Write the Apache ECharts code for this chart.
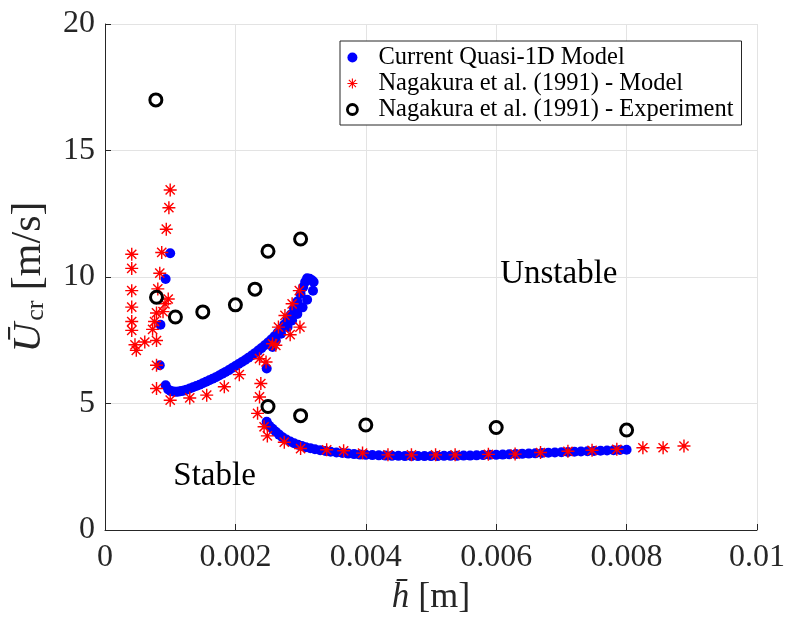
<!DOCTYPE html>
<html>
<head>
<meta charset="utf-8">
<script src="https://cdn.jsdelivr.net/npm/echarts@6/dist/echarts.min.js"></script>
<style>
  html, body { margin: 0; padding: 0; background: #fff; }
  #chart { width: 788px; height: 621px; }
</style>
</head>
<body>
<div id="chart"></div>
<script>
// Axis ticks
const xTicks = ['0', '0.002', '0.004', '0.006', '0.008', '0.01'];
const yTicks = ['0', '5', '10', '15', '20'];

// Current quasi-1D model: critical velocity [m/s] against mean gap h [m]
const quasi1dUpper = [
  [0.00100, 10.94], [0.00093, 9.92], [0.00085, 8.11], [0.00084, 6.51]
];
const quasi1dRising = [
  [0.00093, 5.72], [0.00097, 5.55], [0.00101, 5.49], [0.00105, 5.47], [0.00109, 5.46],
  [0.00113, 5.47], [0.00117, 5.49], [0.00121, 5.51], [0.00125, 5.54], [0.00130, 5.59],
  [0.00135, 5.64], [0.00140, 5.69], [0.00145, 5.74], [0.00150, 5.80], [0.00155, 5.86],
  [0.00160, 5.92], [0.00165, 5.98], [0.00170, 6.04], [0.00175, 6.11], [0.00180, 6.18],
  [0.00185, 6.25], [0.00190, 6.32], [0.00195, 6.40], [0.00200, 6.48], [0.00205, 6.56],
  [0.00210, 6.64], [0.00215, 6.72], [0.00220, 6.81], [0.00225, 6.90], [0.00230, 6.99],
  [0.00235, 7.09], [0.00240, 7.19], [0.00245, 7.30], [0.00250, 7.41], [0.00255, 7.53],
  [0.00260, 7.66], [0.00265, 7.80], [0.00270, 7.95], [0.00275, 8.12], [0.00280, 8.31],
  [0.00285, 8.52], [0.00290, 8.76], [0.00295, 9.03], [0.00300, 9.33], [0.00304, 9.60],
  [0.00307, 9.80], [0.00310, 9.95], [0.00314, 9.93], [0.00318, 9.86]
];
const quasi1dReturn = [
  [0.00320, 9.80], [0.00319, 9.46], [0.00310, 9.10], [0.00303, 8.80], [0.00295, 8.54],
  [0.00287, 8.28], [0.00280, 8.02], [0.00270, 7.76], [0.00262, 7.48], [0.00257, 7.23],
  [0.00248, 6.38]
];
const quasi1dLower = [
  [0.00248, 4.28], [0.00252, 4.12], [0.00257, 4.00], [0.00262, 3.88], [0.00267, 3.77],
  [0.00272, 3.67], [0.00278, 3.58], [0.00284, 3.50], [0.00290, 3.43], [0.00296, 3.37],
  [0.00302, 3.32], [0.00308, 3.27], [0.00315, 3.23], [0.00322, 3.19], [0.00330, 3.15],
  [0.00338, 3.12], [0.00346, 3.09], [0.00355, 3.06], [0.00364, 3.04], [0.00373, 3.02],
  [0.00382, 3.00], [0.00391, 2.98], [0.00400, 2.97], [0.00410, 2.96], [0.00420, 2.95],
  [0.00430, 2.94], [0.00440, 2.93], [0.00450, 2.93], [0.00460, 2.92], [0.00470, 2.92],
  [0.00480, 2.92], [0.00490, 2.92], [0.00500, 2.92], [0.00510, 2.92], [0.00520, 2.93],
  [0.00530, 2.93], [0.00540, 2.93], [0.00550, 2.94], [0.00560, 2.94], [0.00570, 2.95],
  [0.00580, 2.96], [0.00590, 2.97], [0.00600, 2.97], [0.00610, 2.98], [0.00620, 2.99],
  [0.00630, 3.00], [0.00640, 3.01], [0.00650, 3.02], [0.00660, 3.03], [0.00670, 3.04],
  [0.00680, 3.05], [0.00690, 3.06], [0.00700, 3.07], [0.00710, 3.08], [0.00720, 3.09],
  [0.00730, 3.10], [0.00740, 3.11], [0.00750, 3.12], [0.00760, 3.13], [0.00770, 3.14],
  [0.00780, 3.15], [0.00790, 3.16], [0.00800, 3.17]
];

// Nagakura et al. (1991) model curve
const nagakuraModel = [
  [0.00041, 10.90], [0.00041, 10.34], [0.00041, 9.46], [0.00041, 8.81], [0.00041, 8.24],
  [0.00041, 7.89], [0.00046, 7.32], [0.00048, 7.10], [0.00061, 7.43], [0.00073, 7.93],
  [0.00079, 7.49], [0.00076, 8.24], [0.00079, 8.58], [0.00089, 8.63], [0.00092, 8.94],
  [0.00097, 9.13], [0.00081, 9.53], [0.00084, 10.15], [0.00087, 10.97], [0.00094, 11.89],
  [0.00098, 12.74], [0.00100, 13.44], [0.00079, 6.51], [0.00079, 5.59], [0.00100, 5.13],
  [0.00130, 5.22], [0.00156, 5.33], [0.00183, 5.66], [0.00206, 6.14], [0.00237, 6.77],
  [0.00247, 6.64], [0.00257, 7.36], [0.00262, 7.30], [0.00266, 8.02], [0.00276, 8.48],
  [0.00287, 8.94], [0.00298, 9.46], [0.00299, 8.02], [0.00284, 7.72], [0.00239, 5.79],
  [0.00237, 5.26], [0.00234, 4.61], [0.00244, 4.08], [0.00249, 3.72], [0.00275, 3.47],
  [0.00300, 3.22], [0.00340, 3.17], [0.00366, 3.13], [0.00395, 3.04], [0.00434, 2.97],
  [0.00470, 2.97], [0.00507, 2.97], [0.00537, 2.97], [0.00588, 2.99], [0.00629, 3.00],
  [0.00668, 3.06], [0.00710, 3.11], [0.00747, 3.15], [0.00785, 3.19], [0.00825, 3.25],
  [0.00856, 3.25], [0.00888, 3.32]
];

// Nagakura et al. (1991) measurements
const nagakuraExperiment = [
  [0.00078, 17.0], [0.00079, 9.2], [0.00108, 8.42], [0.00150, 8.62], [0.00200, 8.9],
  [0.00230, 9.52], [0.00250, 11.02], [0.00250, 4.88], [0.00300, 11.5], [0.00300, 4.52],
  [0.00400, 4.15], [0.00600, 4.05], [0.00800, 3.95]
];

// Region annotations: [label, x, y]
const regionLabels = [
  ['Unstable', 0.00696, 10.1],
  ['Stable', 0.00168, 2.13]
];

const NAME_BLUE = 'Current Quasi-1D Model';
const NAME_RED = 'Nagakura et al. (1991) - Model';
const NAME_BLACK = 'Nagakura et al. (1991) - Experiment';

// Asterisk marker: "+" and "x" bars, all wound the same way
const STAR = 'path://M1 10.8L23 10.8L23 13.2L1 13.2Z' +
  'M13.2 1L13.2 23L10.8 23L10.8 1Z' +
  'M5.07 3.37L20.63 18.93L18.93 20.63L3.37 5.07Z' +
  'M20.63 5.07L5.07 20.63L3.37 18.93L18.93 3.37Z';

const SERIF = '"Liberation Serif", "DejaVu Serif", serif';
const AXIS_COLOR = '#262626';

const chart = echarts.init(document.getElementById('chart'), null, { renderer: 'canvas' });

const blueSeries = (data) => ({
  type: 'scatter', name: NAME_BLUE, data, symbol: 'circle', symbolSize: 10,
  itemStyle: { color: '#0000ff', opacity: 1 }, z: 2
});

chart.setOption({
  animation: false,
  backgroundColor: '#ffffff',
  grid: { left: 105, top: 24, right: 27, bottom: 89, containLabel: false },
  xAxis: {
    type: 'value', min: 0, max: 0.01, interval: 0.002,
    name: '{i|h\u0304}{n| [m]}',
    nameLocation: 'middle', nameGap: 50,
    nameTextStyle: {
      rich: {
        i: { fontFamily: SERIF, fontStyle: 'italic', fontSize: 35, color: AXIS_COLOR },
        n: { fontFamily: SERIF, fontSize: 36, color: AXIS_COLOR }
      }
    },
    axisLine: { show: true, onZero: false, lineStyle: { color: AXIS_COLOR, width: 1 } },
    axisTick: { show: true, inside: true, length: 6, lineStyle: { color: AXIS_COLOR } },
    axisLabel: {
      fontFamily: SERIF, fontSize: 32, color: AXIS_COLOR, margin: 12,
      formatter: (v, i) => xTicks[i]
    },
    splitLine: { show: true, lineStyle: { color: '#e3e3e3', width: 1 } }
  },
  yAxis: {
    type: 'value', min: 0, max: 20, interval: 5,
    name: '{u|\u016A}{s|cr}{n| [m/s]}',
    nameLocation: 'middle', nameGap: 49, nameRotate: 90,
    nameTextStyle: {
      rich: {
        u: { fontFamily: SERIF, fontStyle: 'italic', fontSize: 41, color: AXIS_COLOR, lineHeight: 46 },
        s: { fontFamily: SERIF, fontSize: 26, color: AXIS_COLOR, verticalAlign: 'bottom', lineHeight: 26, padding: [0, 0, 3, 2] },
        n: { fontFamily: SERIF, fontSize: 42, color: AXIS_COLOR, lineHeight: 46 }
      }
    },
    axisLine: { show: true, onZero: false, lineStyle: { color: AXIS_COLOR, width: 1 } },
    axisTick: { show: true, inside: true, length: 6, lineStyle: { color: AXIS_COLOR } },
    axisLabel: {
      fontFamily: SERIF, fontSize: 32, color: AXIS_COLOR, margin: 10,
      formatter: (v, i) => yTicks[i]
    },
    splitLine: { show: true, lineStyle: { color: '#e3e3e3', width: 1 } }
  },
  legend: {
    orient: 'vertical',
    left: 340, top: 41,
    padding: [4, 8, 3, 6],
    itemGap: 1,
    itemWidth: 34, itemHeight: 10,
    backgroundColor: '#ffffff',
    borderColor: '#262626', borderWidth: 1,
    textStyle: { fontFamily: SERIF, fontSize: 24.5, color: '#000', lineHeight: 25, padding: [0, 0, 0, 4] },
    selectedMode: false,
    data: [
      { name: NAME_BLUE, icon: 'circle', itemStyle: { color: '#0000ff', opacity: 1 } },
      { name: NAME_RED, icon: STAR, itemStyle: { color: '#ff0000', opacity: 1 } },
      { name: NAME_BLACK, icon: 'circle', itemStyle: { color: 'rgba(0,0,0,0)', borderColor: '#000', borderWidth: 2.8, opacity: 1 } }
    ]
  },
  series: [
    blueSeries(quasi1dUpper),
    blueSeries(quasi1dRising),
    blueSeries(quasi1dReturn),
    blueSeries(quasi1dLower),
    {
      type: 'scatter', name: NAME_RED, data: nagakuraModel,
      symbol: STAR, symbolSize: 13, itemStyle: { color: '#ff0000', opacity: 1 }, z: 3
    },
    {
      type: 'scatter', name: NAME_BLACK, data: nagakuraExperiment,
      symbol: 'circle', symbolSize: 12,
      itemStyle: { color: 'rgba(0,0,0,0)', borderColor: '#000000', borderWidth: 3, opacity: 1 }, z: 4
    }
  ]
});

// Place region labels at their data coordinates
chart.setOption({
  graphic: regionLabels.map(([text, x, y]) => {
    const p = chart.convertToPixel({ gridIndex: 0 }, [x, y]);
    return {
      type: 'text', x: p[0], y: p[1], z: 10,
      style: {
        text, fontFamily: SERIF, fontSize: 33, fill: '#000',
        align: 'center', verticalAlign: 'middle'
      }
    };
  })
});
</script>
</body>
</html>
